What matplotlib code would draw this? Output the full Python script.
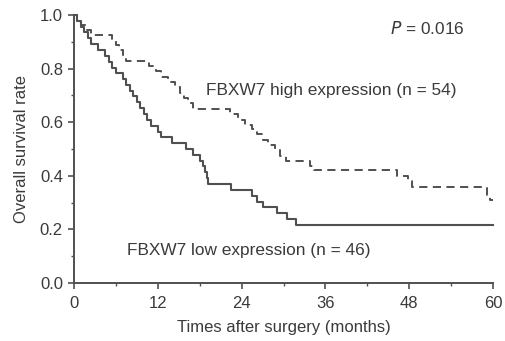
import matplotlib
matplotlib.use("Agg")
import matplotlib.pyplot as plt
from matplotlib.ticker import MultipleLocator

# Low expression (solid), step times and survival after each step
low_t = [0, 0.5, 1.0, 1.5, 2.0, 2.5, 3.5, 4.5, 5.0, 5.5, 6.0, 7.0, 7.5, 8.0, 8.5,
         9.0, 9.5, 10.0, 10.5, 11.0, 12.0, 12.5, 14.0, 16.0, 17.0, 18.0, 18.5,
         18.8, 19.0, 19.2, 22.5, 25.5, 26.2, 27.0, 29.0, 30.5, 31.8, 60]
low_s = [1.0, 0.978, 0.957, 0.935, 0.913, 0.891, 0.870, 0.848, 0.826, 0.804, 0.783,
         0.761, 0.739, 0.717, 0.696, 0.674, 0.652, 0.630, 0.609, 0.587, 0.565, 0.543,
         0.522, 0.500, 0.478, 0.457, 0.435, 0.413, 0.391, 0.370, 0.348, 0.326, 0.304,
         0.283, 0.261, 0.239, 0.217, 0.217]

# High expression (dashed)
high_t = [0, 0.5, 1.0, 1.8, 2.5, 5.5, 6.0, 6.5, 7.0, 7.5, 10.8, 11.8, 12.5, 13.5,
          14.5, 15.2, 15.8, 16.3, 17.0, 22.3, 23.5, 24.5, 25.5, 26.2, 27.0, 27.8,
          28.8, 29.5, 30.3, 33.8, 34.3, 46.2, 47.8, 48.4, 59.2, 59.6, 60]
high_s = [1.0, 0.981, 0.963, 0.944, 0.926, 0.907, 0.889, 0.870, 0.852, 0.830, 0.81,
          0.79, 0.77, 0.75, 0.73, 0.71, 0.69, 0.67, 0.65, 0.63, 0.61, 0.59, 0.575,
          0.555, 0.535, 0.515, 0.495, 0.475, 0.455, 0.435, 0.42, 0.40, 0.38, 0.36,
          0.33, 0.31, 0.31]

x_ticks = [0, 12, 24, 36, 48, 60]
y_ticks = [0.0, 0.2, 0.4, 0.6, 0.8, 1.0]

plt.rcParams['font.family'] = ['Liberation Sans', 'DejaVu Sans']
txt = '#3a3a3a'
lc = '#505050'

fig = plt.figure(figsize=(5.05, 3.41), dpi=100)
ax = fig.add_axes([74/505, 1-283/341, (493-74)/505, (283-15)/341])

ax.step(low_t, low_s, where='post', color=lc, lw=1.5, clip_on=False)
ax.step(high_t, high_s, where='post', color=lc, lw=1.4, linestyle=(0, (4.2, 2.8)), clip_on=False)

ax.set_xlim(0, 60)
ax.set_ylim(0, 1)
ax.set_xticks(x_ticks)
ax.set_yticks(y_ticks)
ax.set_yticklabels([f"{v:.1f}" for v in y_ticks])
ax.xaxis.set_minor_locator(MultipleLocator(6))
ax.yaxis.set_minor_locator(MultipleLocator(0.1))
for s in ['top', 'right']:
    ax.spines[s].set_visible(False)
for s in ['left', 'bottom']:
    ax.spines[s].set_color(lc)
    ax.spines[s].set_linewidth(1.4)
ax.tick_params(which='major', length=4, width=1.2, color=lc, labelsize=12, labelcolor=txt, pad=5)
ax.tick_params(which='minor', length=2.5, width=1.0, color=lc)
ax.tick_params(axis='y', pad=4)

ax.set_xlabel('Times after surgery (months)', fontsize=12, color=txt, labelpad=7)
ax.set_ylabel('Overall survival rate', fontsize=12, color=txt, labelpad=8)

fig.text(390/505, 1-29/341, r'$\it{P}$ = 0.016', fontsize=12.4,
         color=txt, ha='left', va='center')
fig.text(206/505, 1-90/341, 'FBXW7 high expression (n = 54)', fontsize=12.4,
         color=txt, ha='left', va='center')
fig.text(127/505, 1-250/341, 'FBXW7 low expression (n = 46)', fontsize=12.4,
         color=txt, ha='left', va='center')

fig.savefig('out.png', dpi=100)
